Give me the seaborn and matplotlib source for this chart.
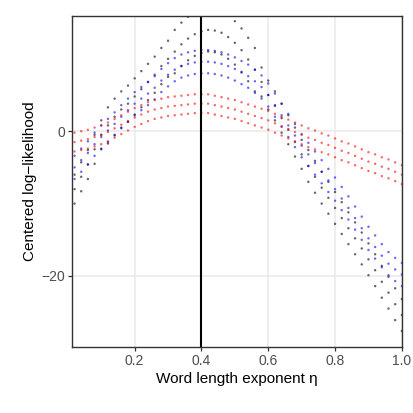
import numpy as np
import pandas as pd
import matplotlib
matplotlib.use("Agg")
import matplotlib.pyplot as plt
import seaborn as sns

eta = np.round(np.arange(0.02, 1.001, 0.02), 2)

# black band (upper edge / middle / lower edge)
black_hi = [-6.0, -4.3, -2.6, -0.5, 1.5, 3.3, 4.5, 5.5, 6.3, 7.3, 8.3, 9.3, 10.3, 11.5, 12.5,
            14.0, 15.0, 15.8, 16.4, 16.8, 17.0, 16.9, 16.6, 16.0, 15.2, 14.2, 12.9, 11.5, 8.8, 7.0,
            5.5, 3.8, 2.2, 0.5, -1.2, -2.6, -4.1, -5.6, -7.0, -8.4, -9.8, -11.2, -12.6, -14.0, -15.5,
            -17.0, -18.6, -20.1, -21.7, -23.2]
black_mid = [-8.0, -6.3, -4.6, -2.5, -0.5, 0.8, 2.0, 3.0, 3.8, 4.8, 5.8, 6.8, 7.8, 9.0, 10.0,
             11.0, 12.0, 12.8, 13.4, 13.8, 14.0, 13.9, 13.6, 13.0, 12.2, 11.2, 9.9, 8.5, 6.8, 5.0,
             3.5, 1.8, 0.2, -1.5, -3.2, -4.8, -6.3, -7.8, -9.2, -10.6, -12.0, -13.4, -14.8, -16.2, -17.7,
             -19.2, -20.8, -22.3, -23.9, -25.4]
black_lo = [-10.0, -8.3, -6.6, -4.5, -2.5, -1.7, -0.5, 0.5, 1.3, 2.3, 3.3, 4.3, 5.3, 6.5, 7.5,
            8.0, 9.0, 9.8, 10.4, 10.8, 11.0, 10.9, 10.6, 10.0, 9.2, 8.2, 6.9, 5.5, 4.8, 3.0,
            1.5, -0.2, -1.8, -3.5, -5.2, -7.0, -8.5, -10.0, -11.4, -12.8, -14.2, -15.6, -17.0, -18.4, -19.9,
            -21.4, -23.0, -24.5, -26.1, -27.6]

# blue band
blue_hi = [-3.4, -2.4, -1.4, -0.2, 0.8, 1.7, 2.6, 3.6, 4.5, 5.4, 6.1, 6.8, 7.6, 8.6, 9.4,
           10.1, 10.6, 10.9, 11.1, 11.2, 11.2, 11.1, 10.9, 10.6, 10.2, 9.7, 9.2, 8.5, 7.7, 6.6,
           5.2, 3.8, 2.4, 1.0, -0.4, -1.6, -2.8, -4.0, -5.2, -6.4, -7.7, -9.0, -10.4, -11.8, -13.2,
           -14.4, -15.6, -16.7, -17.5, -18.2]
blue_mid = [-5.0, -4.0, -3.0, -1.8, -0.8, 0.1, 1.0, 2.0, 2.9, 3.8, 4.5, 5.2, 6.0, 7.0, 7.8,
            8.5, 9.0, 9.3, 9.5, 9.6, 9.6, 9.5, 9.3, 9.0, 8.6, 8.1, 7.6, 6.9, 6.1, 5.0,
            3.6, 2.2, 0.8, -0.6, -2.0, -3.2, -4.4, -5.6, -6.8, -8.0, -9.3, -10.6, -12.0, -13.4, -14.8,
            -16.0, -17.2, -18.3, -19.1, -19.8]
blue_lo = [-6.6, -5.6, -4.6, -3.4, -2.4, -1.5, -0.6, 0.4, 1.3, 2.2, 2.9, 3.6, 4.4, 5.4, 6.2,
           6.9, 7.4, 7.7, 7.9, 8.0, 8.0, 7.9, 7.7, 7.4, 7.0, 6.5, 6.0, 5.3, 4.5, 3.4,
           2.0, 0.6, -0.8, -2.2, -3.6, -4.8, -6.0, -7.2, -8.4, -9.6, -10.9, -12.2, -13.6, -15.0, -16.4,
           -17.6, -18.8, -19.9, -20.7, -21.4]

# red band
red_hi = [-0.2, 0.0, 0.2, 0.5, 0.8, 1.2, 1.7, 2.2, 2.7, 3.2, 3.6, 4.0, 4.3, 4.5, 4.7,
          4.8, 4.9, 5.0, 5.1, 5.1, 5.1, 4.9, 4.7, 4.5, 4.3, 4.0, 3.7, 3.4, 3.1, 2.8,
          2.4, 2.0, 1.6, 1.2, 0.8, 0.4, 0.1, -0.3, -0.6, -1.0, -1.4, -1.7, -2.1, -2.5, -2.9,
          -3.2, -3.6, -3.9, -4.3, -4.7]
red_mid = [-1.5, -1.3, -1.1, -0.8, -0.5, -0.1, 0.4, 0.9, 1.4, 1.9, 2.3, 2.7, 3.0, 3.2, 3.4,
           3.5, 3.6, 3.7, 3.8, 3.8, 3.8, 3.6, 3.4, 3.2, 3.0, 2.7, 2.4, 2.1, 1.8, 1.5,
           1.1, 0.7, 0.3, -0.1, -0.5, -0.9, -1.2, -1.6, -1.9, -2.3, -2.7, -3.0, -3.4, -3.8, -4.2,
           -4.5, -4.9, -5.2, -5.6, -6.0]
red_lo = [-2.8, -2.6, -2.4, -2.1, -1.8, -1.4, -0.9, -0.4, 0.1, 0.6, 1.0, 1.4, 1.7, 1.9, 2.1,
          2.2, 2.3, 2.4, 2.5, 2.5, 2.5, 2.3, 2.1, 1.9, 1.7, 1.4, 1.1, 0.8, 0.5, 0.2,
          -0.2, -0.6, -1.0, -1.4, -1.8, -2.2, -2.5, -2.9, -3.2, -3.6, -4.0, -4.3, -4.7, -5.1, -5.5,
          -5.8, -6.2, -6.5, -6.9, -7.3]

eta_opt = 0.4

bands = {
    "black": [black_hi, black_mid, black_lo],
    "blue": [blue_hi, blue_mid, blue_lo],
    "red": [red_hi, red_mid, red_lo],
}

rows = []
for name, edges in bands.items():
    for ys in edges:
        for x, y in zip(eta, ys):
            rows.append({"eta": x, "ll": y, "series": name})
df = pd.DataFrame(rows)

sns.set_theme(style="whitegrid")
plt.rcParams["font.family"] = ["Liberation Sans", "DejaVu Sans"]

fig = plt.figure(figsize=(4.13, 4.13), dpi=100)
ax = fig.add_axes([0.174, 0.16, 0.799, 0.801])

sns.scatterplot(data=df, x="eta", y="ll", hue="series",
                palette={"black": "black", "blue": "blue", "red": "red"},
                s=3, alpha=0.6, linewidth=0, legend=False, ax=ax)
ax.axvline(eta_opt, color="black", lw=1.5)

ax.set_xlim(0.012, 1.0)
ax.set_ylim(-29.8, 15.9)
ax.set_xticks([0.2, 0.4, 0.6, 0.8, 1.0])
ax.set_xticklabels(["0.2", "0.4", "0.6", "0.8", "1.0"])
ax.set_yticks([0, -20])
ax.set_yticklabels(["0", "\u221220"])

for s in ax.spines.values():
    s.set_visible(True)
    s.set_color("#333333")
    s.set_linewidth(1.0)
ax.grid(color="#ebebeb", lw=1.2)
ax.tick_params(axis="both", length=3, width=0.9, color="#333333",
               labelsize=10, labelcolor="#4d4d4d", pad=2, bottom=True, left=True)

ax.set_xlabel("Word length exponent \u03b7", fontsize=11, color="black", labelpad=3)
ax.set_ylabel("Centered log\u2212likelihood", fontsize=11, color="black", labelpad=3)

fig.savefig("out.png", dpi=100)
